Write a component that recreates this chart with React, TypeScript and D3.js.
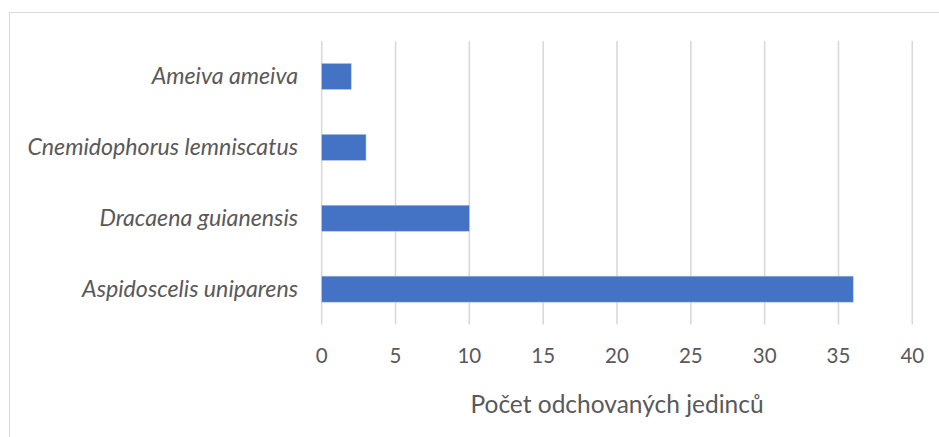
import React from "react";
import * as d3 from "d3";

const categories = ["Ameiva ameiva", "Cnemidophorus lemniscatus", "Dracaena guianensis", "Aspidoscelis uniparens"];
const values = [2, 3, 10, 36];
const xTicks = [0, 5, 10, 15, 20, 25, 30, 35, 40];
const xTitle = "Počet odchovaných jedinců";

const W = 939;
const H = 437;
const FONT = "Lato, 'Open Sans', sans-serif";
const TEXT = "#595959";

export default function App() {
  const x = d3.scaleLinear().domain([0, 40]).range([321.7, 912.3]);
  const y = d3
    .scaleBand<string>()
    .domain(categories)
    .range([41, 324.6])
    .paddingInner(0.633)
    .paddingOuter(0.3165);
  const [y0, y1] = y.range();

  return (
    <svg
      width={W}
      height={H}
      style={{ position: "absolute", left: 0, top: 0, background: "#fff" }}
    >
      <rect x={9.5} y={12.5} width={W + 20} height={H + 20} fill="#fff" stroke="#d9d9d9" strokeWidth={1} />
      {xTicks.map((t) => (
        <line key={"g" + t} x1={x(t)} x2={x(t)} y1={y0} y2={y1} stroke="#d9d9d9" strokeWidth={1.6} />
      ))}
      {categories.map((c, i) => (
        <rect
          key={c}
          x={x(0)}
          y={y(c)}
          width={x(values[i]) - x(0)}
          height={y.bandwidth()}
          fill="#4472c4"
          stroke="#b4c7e7"
          strokeWidth={0.6}
        />
      ))}
      {categories.map((c) => (
        <text
          key={"l" + c}
          x={298}
          y={(y(c) as number) + y.bandwidth() / 2 + 7.8}
          textAnchor="end"
          fontFamily={FONT}
          fontStyle="italic"
          fontSize={23.2}
          fill={TEXT}
        >
          {c}
        </text>
      ))}
      {xTicks.map((t) => (
        <text
          key={"t" + t}
          x={x(t)}
          y={363}
          textAnchor="middle"
          fontFamily={FONT}
          fontSize={20.5}
          fill={TEXT}
        >
          {t}
        </text>
      ))}
      <text
        x={(x(0) + x(40)) / 2}
        y={413}
        textAnchor="middle"
        fontFamily={FONT}
        fontSize={24.5}
        fill={TEXT}
      >
        {xTitle}
      </text>
    </svg>
  );
}
